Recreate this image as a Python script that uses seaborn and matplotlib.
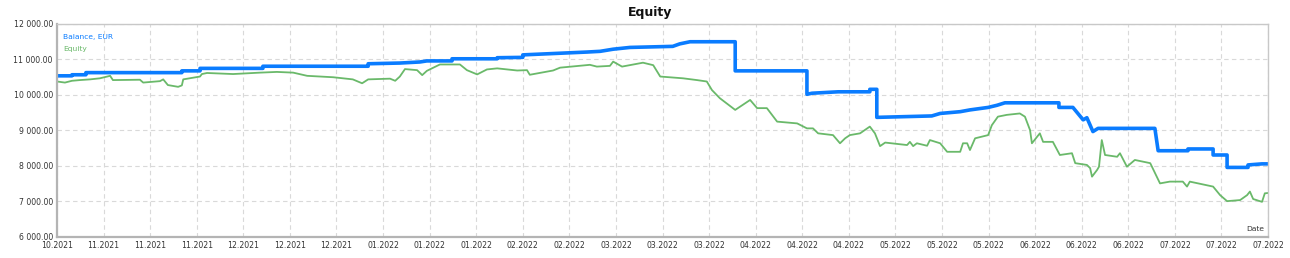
import pandas as pd
import matplotlib.pyplot as plt
import seaborn as sns

# --- data (time in tick steps, 0 = first label) ---
tick_labels = ["10.2021", "11.2021", "11.2021", "11.2021", "12.2021", "12.2021", "12.2021",
               "01.2022", "01.2022", "01.2022", "02.2022", "02.2022", "03.2022", "03.2022",
               "03.2022", "04.2022", "04.2022", "04.2022", "05.2022", "05.2022", "05.2022",
               "06.2022", "06.2022", "06.2022", "07.2022", "07.2022", "07.2022"]

balance_t = [0.00, 0.32, 0.32, 0.62, 0.62, 2.68, 2.68, 3.07, 3.07, 4.42, 4.42, 6.68, 6.68,
             7.36, 7.79, 7.94, 8.48, 8.48, 9.45, 9.45, 10.00, 10.00, 11.38, 11.66, 11.94,
             12.30, 13.22, 13.37, 13.59, 14.56, 14.56, 16.10, 16.10, 16.21, 16.77, 17.45,
             17.45, 17.60, 17.60, 18.78, 18.96, 19.39, 19.60, 19.99, 20.18, 20.35, 21.51,
             21.51, 21.81, 22.03, 22.11, 22.24, 22.35, 23.57, 23.64, 24.28, 24.28, 24.82,
             24.82, 25.12, 25.12, 25.57, 25.57, 25.87, 26.00]
balance = [10540, 10540, 10570, 10570, 10630, 10630, 10680, 10680, 10750, 10750, 10810,
           10810, 10880, 10900, 10930, 10960, 10960, 11020, 11020, 11050, 11060, 11130,
           11210, 11230, 11290, 11340, 11370, 11440, 11500, 11500, 10680, 10680, 10020,
           10050, 10090, 10090, 10160, 10160, 9370, 9410, 9480, 9530, 9580, 9650, 9710,
           9780, 9780, 9650, 9650, 9300, 9360, 8970, 9060, 9060, 8430, 8430, 8480, 8480,
           8310, 8310, 7960, 7960, 8030, 8060, 8060]

equity_t = [0.00, 0.17, 0.32, 0.49, 0.71, 0.92, 1.14, 1.20, 1.78, 1.85, 2.21, 2.28, 2.38,
            2.60, 2.68, 2.71, 3.07, 3.11, 3.22, 3.78, 4.36, 4.72, 5.07, 5.37, 5.93, 6.35,
            6.55, 6.68, 7.15, 7.26, 7.36, 7.47, 7.73, 7.84, 7.94, 8.22, 8.65, 8.80, 9.02,
            9.23, 9.45, 9.88, 10.09, 10.15, 10.65, 10.80, 11.44, 11.59, 11.87, 11.94, 12.13,
            12.58, 12.80, 12.95, 13.44, 13.74, 13.95, 14.06, 14.23, 14.56, 14.88, 15.03,
            15.24, 15.46, 15.89, 16.10, 16.23, 16.34, 16.66, 16.81, 16.92, 17.02, 17.24,
            17.45, 17.56, 17.67, 17.78, 18.25, 18.31, 18.38, 18.46, 18.68, 18.74, 18.96,
            19.11, 19.39, 19.45, 19.54, 19.60, 19.71, 19.99, 20.07, 20.20, 20.39, 20.67,
            20.78, 20.89, 20.93, 21.10, 21.17, 21.38, 21.53, 21.79, 21.86, 22.11, 22.18,
            22.22, 22.33, 22.37, 22.43, 22.50, 22.76, 22.82, 22.97, 23.14, 23.47, 23.68,
            23.89, 24.17, 24.26, 24.32, 24.82, 24.97, 25.12, 25.40, 25.55, 25.61, 25.68,
            25.87, 25.93, 26.00]
equity = [10380, 10350, 10400, 10420, 10440, 10470, 10540, 10420, 10430, 10350, 10390,
          10440, 10280, 10230, 10270, 10440, 10520, 10590, 10620, 10590, 10630, 10650,
          10630, 10540, 10500, 10440, 10330, 10440, 10460, 10400, 10520, 10730, 10700,
          10560, 10680, 10860, 10860, 10700, 10580, 10720, 10750, 10690, 10700, 10570,
          10690, 10770, 10850, 10800, 10820, 10940, 10800, 10910, 10840, 10520, 10470,
          10420, 10380, 10140, 9910, 9580, 9860, 9630, 9630, 9250, 9200, 9060, 9060, 8920,
          8870, 8640, 8780, 8870, 8920, 9110, 8920, 8560, 8660, 8590, 8680, 8560, 8640,
          8570, 8730, 8640, 8400, 8400, 8640, 8640, 8450, 8780, 8870, 9150, 9390, 9440,
          9480, 9390, 9010, 8640, 8920, 8680, 8680, 8310, 8360, 8080, 8030, 7940, 7700,
          7890, 7980, 8730, 8310, 8260, 8360, 7980, 8170, 8080, 7510, 7560, 7560, 7420,
          7560, 7420, 7180, 7010, 7040, 7180, 7280, 7070, 6990, 7230, 7240]

y_ticks = [6000, 7000, 8000, 9000, 10000, 11000, 12000]

bal_df = pd.DataFrame({"t": balance_t, "value": balance})
eq_df = pd.DataFrame({"t": equity_t, "value": equity})

sns.set_style("white")
plt.rcParams['font.family'] = ['DejaVu Sans']

blue = "#0a7cff"
green = "#6ab96a"

fig = plt.figure(figsize=(12.9, 2.58), dpi=100)
ax = fig.add_axes([0.0442, 0.0814, 0.9388, 0.8256])

sns.lineplot(data=eq_df, x="t", y="value", ax=ax, color=green, linewidth=1.3,
             sort=False, estimator=None)
sns.lineplot(data=bal_df, x="t", y="value", ax=ax, color=blue, linewidth=2.6,
             sort=False, estimator=None)

ax.set_xlim(0, 26)
ax.set_ylim(6000, 12000)
ax.set_xticks(range(len(tick_labels)))
ax.set_xticklabels(tick_labels)
ax.set_yticks(y_ticks)
ax.set_yticklabels([f"{v:,.2f}".replace(",", " ") for v in y_ticks])
ax.tick_params(axis="both", length=0, labelsize=5.6, labelcolor="#333333", pad=3)
ax.set_xlabel("")
ax.set_ylabel("")
ax.grid(True, color="#d9d9d9", linestyle=(0, (4, 3)), linewidth=0.8)
ax.set_axisbelow(True)

for side in ["top", "right"]:
    ax.spines[side].set_color("#c8c8c8")
    ax.spines[side].set_linewidth(1.0)
for side in ["left", "bottom"]:
    ax.spines[side].set_color("#b4b4b4")
    ax.spines[side].set_linewidth(1.6)

ax.text(0.005, 0.955, "Balance, EUR", transform=ax.transAxes, color=blue,
        fontsize=5.4, ha="left", va="top")
ax.text(0.005, 0.895, "Equity", transform=ax.transAxes, color=green,
        fontsize=5.4, ha="left", va="top")
ax.text(0.997, 0.025, "Date", transform=ax.transAxes, color="#333333",
        fontsize=5.4, ha="right", va="bottom")

fig.text(0.504, 0.953, "Equity", ha="center", va="center", fontsize=9,
         fontweight="bold", color="#111111")

fig.savefig("out.png", dpi=100)
